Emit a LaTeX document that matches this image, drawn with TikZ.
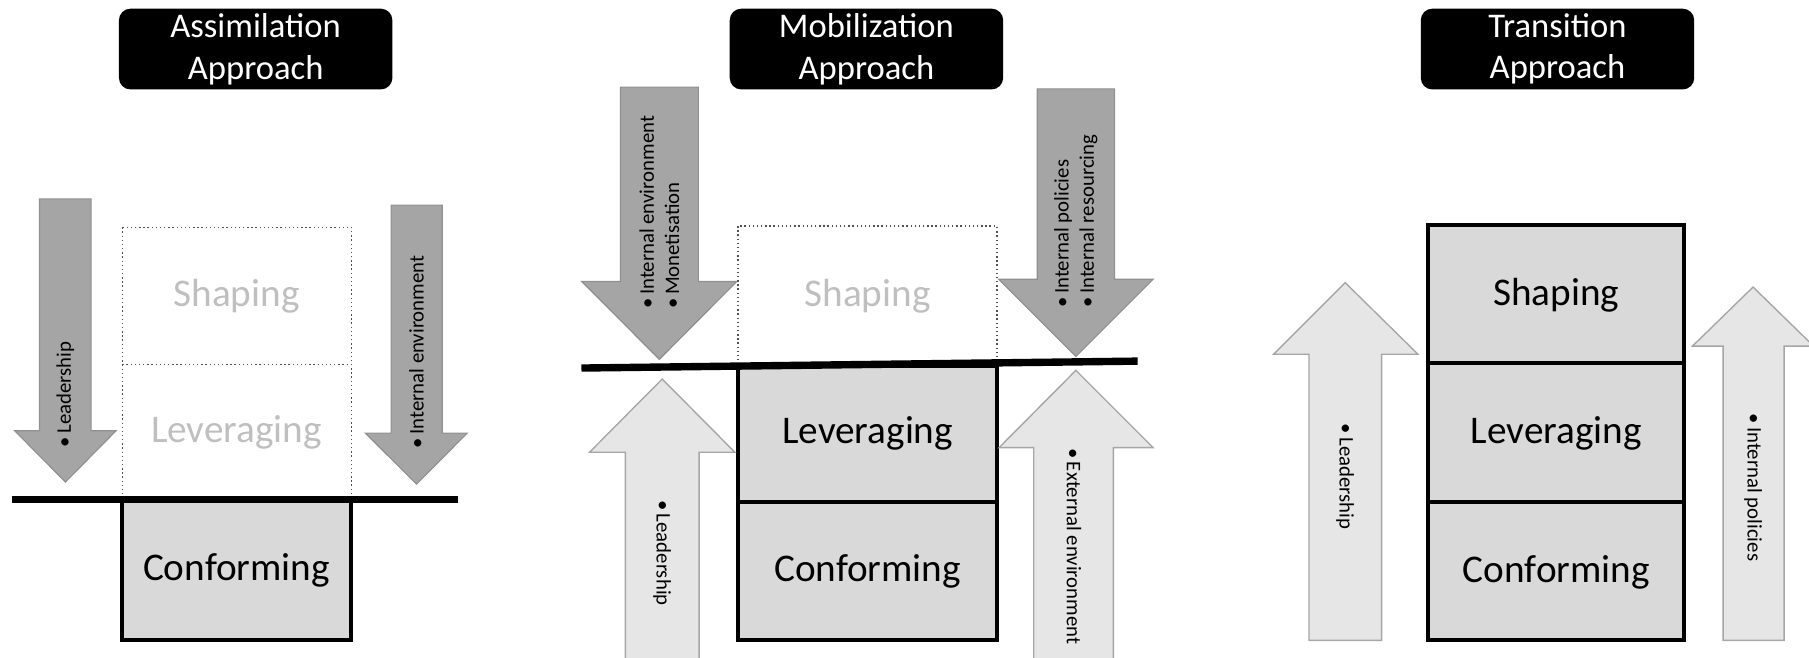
\documentclass[tikz,border=0pt]{standalone}
\usepackage{fontspec}
\setmainfont{Carlito}
\definecolor{darkarrow}{HTML}{A5A5A5}
\definecolor{darkedge}{HTML}{909090}
\definecolor{lightarrow}{HTML}{E7E6E6}
\definecolor{lightedge}{HTML}{A6A6A6}
\definecolor{boxgray}{HTML}{D9D9D9}
\definecolor{ghostgray}{HTML}{BFBFBF}
\definecolor{dotgray}{HTML}{505050}
\begin{document}
\begin{tikzpicture}[x=0.5pt,y=-0.5pt,
  titlebox/.style={fill=black, rounded corners=5pt, text=white, font=\fontsize{15}{18}\selectfont, align=center, inner sep=0pt, minimum width=118.5pt, minimum height=35pt},
  lbl/.style={font=\fontsize{17}{20}\selectfont, inner sep=0pt},
  ghost/.style={lbl, text=ghostgray},
  atext/.style={font=\fontsize{9}{11}\selectfont, inner sep=0pt, align=left},
  darrow/.style={fill=darkarrow, draw=darkedge, line width=0.5pt},
  larrow/.style={fill=lightarrow, draw=lightedge, line width=0.6pt},
  stack/.style={fill=boxgray, draw=black, line width=1.75pt},
  dots/.style={draw=dotgray, line width=0.6pt, dash pattern=on 0.6pt off 1.2pt},
  bar/.style={draw=black, line width=3.2pt}]
\useasboundingbox (0,0) rectangle (1568,570);

% ---------- Panel 1: Assimilation ----------
\node[titlebox] (title1) at (221.6,42.5) {Assimilation\\Approach};
\draw[darrow] (34.3,172.4) -- (79,172.4) -- (79,373.3) -- (100.7,373.3) -- (56.7,417.8) -- (12.7,373.3) -- (34.3,373.3) -- cycle;
\draw[darrow] (339,177.8) -- (383.3,177.8) -- (383.3,375.4) -- (405,375.4) -- (361,419.6) -- (316.7,375.4) -- (339,375.4) -- cycle;
\draw[dots] (106,197) rectangle (304.5,433);
\draw[dots] (106,316) -- (304.5,316);
\node[ghost] (shape1) at (205,257) {Shaping};
\node[ghost] (lev1) at (205,375) {Leveraging};
\draw[stack] (106,433) rectangle (304.5,555);
\node[lbl] (conf1) at (205,494) {Conforming};
\draw[bar] (10,433) -- (397,433);
\node[atext, rotate=90, anchor=west] (t1a) at (56.7,388) {•\,Leadership};
\node[atext, rotate=90, anchor=west] (t1b) at (361,389) {•\,Internal environment};

% ---------- Panel 2: Mobilization ----------
\node[titlebox] (title2) at (751,42.5) {Mobilization\\Approach};
\draw[darrow] (537.8,75.5) -- (605.3,75.5) -- (605.3,244) -- (638.6,244) -- (571.5,311.5) -- (504.3,244) -- (537.8,244) -- cycle;
\draw[darrow] (899,77) -- (966,77) -- (966,242) -- (999.5,242) -- (932.5,309) -- (865.5,242) -- (899,242) -- cycle;
\draw[dots] (639.6,196) rectangle (864,317);
\node[ghost] (shape2) at (752,257) {Shaping};
\draw[stack] (639.6,317) rectangle (864,435.5);
\draw[stack] (639.6,435.5) rectangle (864,555);
\node[lbl] (lev2) at (752,376) {Leveraging};
\node[lbl] (conf2) at (752,495) {Conforming};
\draw[bar] (504,319) -- (986,313);
\draw[larrow] (542,590) -- (542,392) -- (511,392) -- (574,328.5) -- (637,392) -- (606,392) -- (606,590) -- cycle;
\draw[larrow] (896,590) -- (896,388) -- (866,388) -- (932.5,321) -- (999.5,388) -- (965,388) -- (965,590) -- cycle;
\node[atext, rotate=90, anchor=west] (t2a) at (571.5,268) {•\,Internal environment\\•\,Monetisation};
\node[atext, rotate=90, anchor=west] (t2b) at (932.5,267) {•\,Internal policies\\•\,Internal resourcing};
\node[atext, rotate=-90, anchor=west] (t2c) at (574,433) {•\,Leadership};
\node[atext, rotate=-90, anchor=west] (t2d) at (931,388) {•\,External environment};

% ---------- Panel 3: Transition ----------
\node[titlebox] (title3) at (1350,42.5) {Transition\\Approach};
\draw[stack] (1238,195) rectangle (1460,315);
\draw[stack] (1238,315) rectangle (1460,435);
\draw[stack] (1238,435) rectangle (1460,555);
\node[lbl] (shape3) at (1349,256) {Shaping};
\node[lbl] (lev3) at (1349,376) {Leveraging};
\node[lbl] (conf3) at (1349,496) {Conforming};
\draw[larrow] (1134.6,555) -- (1134.6,307) -- (1104,307) -- (1166,245) -- (1229,307) -- (1197.5,307) -- (1197.5,555) -- cycle;
\draw[larrow] (1493.5,555) -- (1493.5,300) -- (1467,300) -- (1519.5,248.8) -- (1572,300) -- (1546.4,300) -- (1546.4,555) -- cycle;
\node[atext, rotate=-90, anchor=west] (t3a) at (1166,367) {•\,Leadership};
\node[atext, rotate=-90, anchor=west] (t3b) at (1519.5,358) {•\,Internal policies};
\end{tikzpicture}
\end{document}
